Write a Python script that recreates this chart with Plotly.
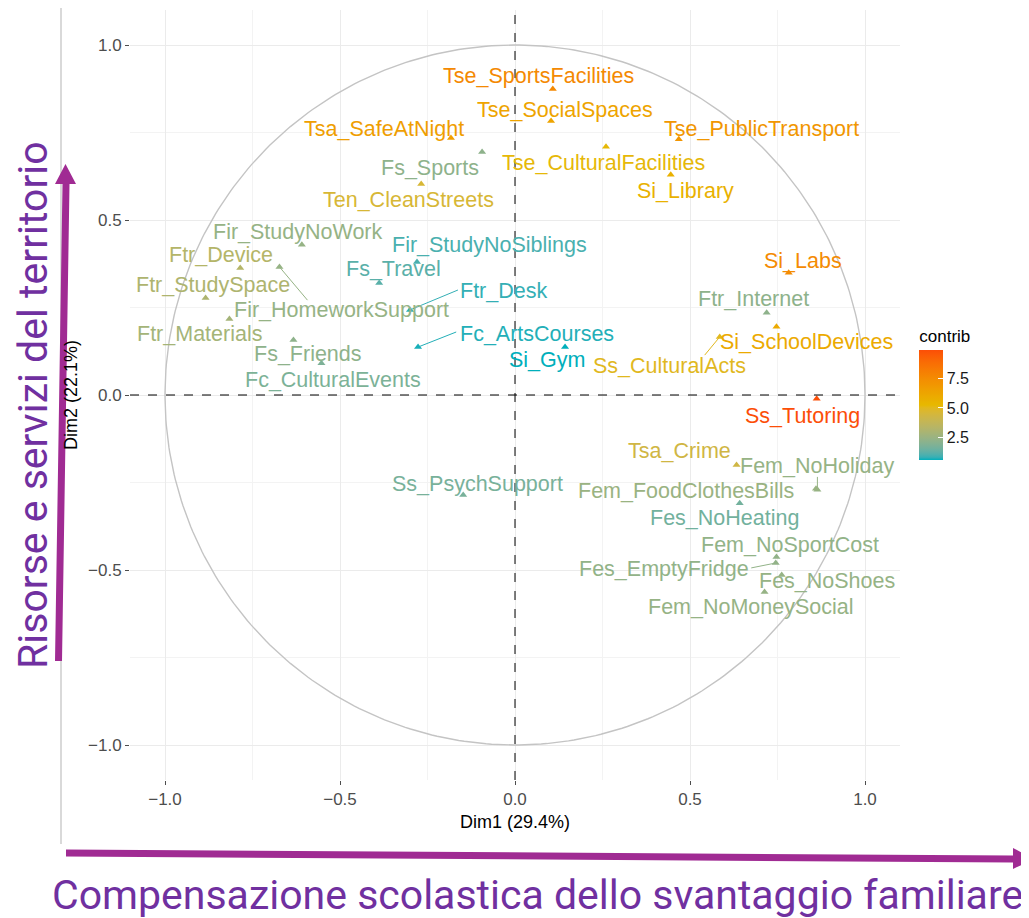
import plotly.graph_objects as go
import numpy as np

# ---- data ----
names = ["Tse_SportsFacilities", "Tse_SocialSpaces", "Tse_PublicTransport", "Tsa_SafeAtNight",
         "Fs_Sports", "Tse_CulturalFacilities", "Si_Library", "Ten_CleanStreets",
         "Fir_StudyNoWork", "Ftr_Device", "Ftr_StudySpace", "Fir_HomeworkSupport",
         "Ftr_Materials", "Fs_Friends", "Fc_CulturalEvents", "Fs_Travel",
         "Fir_StudyNoSiblings", "Ftr_Desk", "Fc_ArtsCourses", "Si_Gym",
         "Si_Labs", "Ftr_Internet", "Si_SchoolDevices", "Ss_CulturalActs",
         "Ss_Tutoring", "Tsa_Crime", "Fem_NoHoliday", "Fem_FoodClothesBills",
         "Fes_NoHeating", "Fem_NoSportCost", "Fes_EmptyFridge", "Fes_NoShoes",
         "Fem_NoMoneySocial", "Ss_PsychSupport"]
dim1 = [0.108, 0.103, 0.468, -0.183,
        -0.094, 0.260, 0.445, -0.268,
        -0.609, -0.785, -0.884, -0.673,
        -0.816, -0.633, -0.553, -0.388,
        -0.280, -0.300, -0.277, 0.143,
        0.782, 0.719, 0.747, 0.585,
        0.862, 0.633, 0.864, 0.860,
        0.642, 0.747, 0.745, 0.762,
        0.713, -0.148]
dim2 = [0.874, 0.783, 0.731, 0.734,
        0.694, 0.709, 0.629, 0.603,
        0.429, 0.363, 0.277, 0.366,
        0.217, 0.157, 0.091, 0.320,
        0.380, 0.243, 0.137, 0.137,
        0.349, 0.235, 0.195, 0.166,
        -0.011, -0.200, -0.271, -0.268,
        -0.309, -0.463, -0.480, -0.514,
        -0.563, -0.286]
contrib = [7.6, 6.3, 7.0, 6.6,
           2.2, 5.2, 5.6, 4.6,
           2.4, 3.3, 3.1, 2.4,
           2.8, 2.2, 1.8, 1.2,
           1.0, 0.8, 0.7, 0.6,
           7.5, 2.2, 6.0, 5.0,
           9.9, 4.3, 2.4, 2.5,
           1.6, 2.3, 2.3, 2.4,
           2.4, 1.7]

# label placement (repelled positions, data units)
label_x = [0.068, 0.143, 0.705, -0.374,
           -0.243, 0.254, 0.488, -0.305,
           -0.619, -0.839, -0.864, -0.496,
           -0.902, -0.591, -0.519, -0.348,
           -0.074, -0.034, 0.063, 0.091,
           0.822, 0.682, 0.833, 0.442,
           0.822, 0.471, 0.864, 0.488,
           0.599, 0.787, 0.425, 0.890,
           0.673, -0.108]
label_y = [0.911, 0.814, 0.760, 0.760,
           0.649, 0.663, 0.583, 0.557,
           0.466, 0.400, 0.314, 0.243,
           0.174, 0.117, 0.043, 0.360,
           0.429, 0.297, 0.174, 0.100,
           0.383, 0.274, 0.151, 0.083,
           -0.060, -0.160, -0.203, -0.274,
           -0.351, -0.429, -0.497, -0.531,
           -0.606, -0.254]
# repel segments: label -> segment end (data units)
seg_names = ["Fir_HomeworkSupport", "Ftr_Desk", "Fc_ArtsCourses", "Ss_CulturalActs",
             "Fem_NoHoliday", "Fes_EmptyFridge"]
seg_end_x = [-0.593, -0.163, -0.168, 0.542, 0.864, 0.675]
seg_end_y = [0.271, 0.300, 0.180, 0.114, -0.234, -0.494]

grad_cols = ["#00AFBB", "#E7B800", "#FC4E07"]


# ---- Lab interpolation (as ggplot's gradientn) ----
def hex2rgb(h):
    h = h.lstrip("#")
    return [int(h[i:i + 2], 16) / 255 for i in (0, 2, 4)]


def rgb2lab(rgb):
    lin = [c / 12.92 if c <= 0.04045 else ((c + 0.055) / 1.055) ** 2.4 for c in rgb]
    r, g, b = lin
    X = 0.4124564 * r + 0.3575761 * g + 0.1804375 * b
    Y = 0.2126729 * r + 0.7151522 * g + 0.0721750 * b
    Z = 0.0193339 * r + 0.1191920 * g + 0.9503041 * b
    Xn, Yn, Zn = 0.95047, 1.0, 1.08883

    def f(t):
        return t ** (1 / 3) if t > 0.008856 else 7.787 * t + 16 / 116
    fx, fy, fz = f(X / Xn), f(Y / Yn), f(Z / Zn)
    return [116 * fy - 16, 500 * (fx - fy), 200 * (fy - fz)]


def lab2hex(lab):
    L, a, b = lab
    fy = (L + 16) / 116
    fx = fy + a / 500
    fz = fy - b / 200

    def finv(t):
        return t ** 3 if t ** 3 > 0.008856 else (t - 16 / 116) / 7.787
    X, Y, Z = 0.95047 * finv(fx), finv(fy), 1.08883 * finv(fz)
    r = 3.2404542 * X - 1.5371385 * Y - 0.4985314 * Z
    g = -0.9692660 * X + 1.8760108 * Y + 0.0415560 * Z
    bb = 0.0556434 * X - 0.2040259 * Y + 1.0572252 * Z
    out = []
    for c in (r, g, bb):
        c = 12.92 * c if c <= 0.0031308 else 1.055 * c ** (1 / 2.4) - 0.055
        out.append(int(round(min(max(c, 0), 1) * 255)))
    return "#%02X%02X%02X" % tuple(out)


labs = [rgb2lab(hex2rgb(c)) for c in grad_cols]


def lab_color(t):
    t = min(max(t, 0), 1)
    seg = min(int(t * 2), 1)
    u = t * 2 - seg
    l0, l1 = labs[seg], labs[seg + 1]
    return lab2hex([l0[k] + (l1[k] - l0[k]) * u for k in range(3)])


colorscale = [[i / 40, lab_color(i / 40)] for i in range(41)]
cmin, cmax = min(contrib), max(contrib)
cols = [lab_color((c - cmin) / (cmax - cmin)) for c in contrib]
col_of = dict(zip(names, cols))
idx_of = {n: i for i, n in enumerate(names)}

fig = go.Figure()

# correlation circle
t = np.linspace(0, 2 * np.pi, 400)
fig.add_trace(go.Scatter(x=np.cos(t), y=np.sin(t), mode="lines",
                         line=dict(color="#C4C4C4", width=1.4),
                         hoverinfo="skip", showlegend=False))

# segments
for n, ex, ey in zip(seg_names, seg_end_x, seg_end_y):
    i = idx_of[n]
    fig.add_trace(go.Scatter(x=[dim1[i], ex], y=[dim2[i], ey], mode="lines",
                             line=dict(color=col_of[n], width=1),
                             hoverinfo="skip", showlegend=False))

# points (arrow heads)
fig.add_trace(go.Scatter(
    x=dim1, y=dim2, mode="markers", text=names,
    marker=dict(symbol="triangle-up", size=7, color=contrib,
                colorscale=colorscale, cmin=cmin, cmax=cmax,
                showscale=True,
                colorbar=dict(
                    title=dict(text="contrib", side="top",
                               font=dict(size=17, color="#000000",
                                         family="Liberation Sans, Arial")),
                    x=1.025, xanchor="left", xref="paper", xpad=0,
                    y=(780 - 393) / 770, yanchor="middle", yref="paper", ypad=0,
                    len=134, lenmode="pixels",
                    thickness=24, thicknessmode="pixels",
                    outlinewidth=0,
                    tickvals=[2.5, 5.0, 7.5], ticktext=["2.5", "5.0", "7.5"],
                    ticks="inside", ticklen=5, tickcolor="white",
                    tickfont=dict(size=16, color="#1A1A1A",
                                  family="Liberation Sans, Arial"),
                )),
    showlegend=False))

# labels
for n, lx, ly in zip(names, label_x, label_y):
    fig.add_annotation(x=lx, y=ly, xref="x", yref="y", text=n, showarrow=False,
                       font=dict(size=21.5, color=col_of[n],
                                 family="Liberation Sans, Arial"),
                       xanchor="center", yanchor="middle")

axis_common = dict(range=[-1.1, 1.1], tickvals=[-1.0, -0.5, 0.0, 0.5, 1.0],
                   ticktext=["\u22121.0", "\u22120.5", "0.0", "0.5", "1.0"],
                   showgrid=True, gridcolor="#EBEBEB", gridwidth=1.2,
                   zeroline=False, showline=False,
                   ticks="outside", ticklen=4, tickcolor="#4D4D4D",
                   tickfont=dict(size=17, color="#4D4D4D",
                                 family="Liberation Sans, Arial"),
                   minor=dict(dtick=0.25, tick0=0.25, showgrid=True,
                              gridcolor="#F3F3F3", gridwidth=0.8, ticks=""),
                   fixedrange=True)

# page body has an 8px margin: compensate so the plot panel sits at page px 130..900 / 10..780
OFF = 8
W, H = 1029 - OFF, 918 - OFF
fig.update_layout(
    width=W, height=H, autosize=False,
    margin=dict(l=130 - OFF, r=W - (900 - OFF), t=10 - OFF, b=H - (780 - OFF)),
    paper_bgcolor="white", plot_bgcolor="white",
    xaxis=dict(**axis_common,
               title=dict(text="Dim1 (29.4%)", standoff=6,
                          font=dict(size=18, color="#000000",
                                    family="Liberation Sans Narrow, Liberation Sans, Arial"))),
    yaxis=dict(**axis_common,
               title=dict(text="Dim2 (22.1%)", standoff=5,
                          font=dict(size=18, color="#000000",
                                    family="Liberation Sans Narrow, Liberation Sans, Arial"))),
)

# dashed reference lines at 0
fig.add_shape(type="line", x0=0, x1=0, y0=-1.1, y1=1.1, xref="x", yref="y",
              line=dict(color="black", width=1, dash="dash"))
fig.add_shape(type="line", x0=-1.1, x1=1.1, y0=0, y1=0, xref="x", yref="y",
              line=dict(color="black", width=1, dash="dash"))


# ---- overlay (page pixel -> paper) ----
def px(xp):
    return (xp - 130) / 770.0


def py(yp):
    return (780 - yp) / 770.0


def path(points):
    return "M " + " L ".join(f"{px(a):.5f},{py(b):.5f}" for a, b in points) + " Z"


fig.add_shape(type="line", xref="paper", yref="paper",
              x0=px(61), x1=px(61), y0=py(7), y1=py(844),
              line=dict(color="#D9D9D9", width=2))

purple = "#A02B93"
fig.add_shape(type="path", xref="paper", yref="paper",
              path=path([(55, 661), (62, 661), (69.5, 184), (76, 184), (65.5, 164),
                         (55, 184), (62.5, 184)]),
              fillcolor=purple, line=dict(width=0))
fig.add_shape(type="path", xref="paper", yref="paper",
              path=path([(66, 849.5), (1013, 855.5), (1013, 848), (1034, 859),
                         (1013, 869), (1013, 862.5), (66, 856.5)]),
              fillcolor=purple, line=dict(width=0))

fig.add_annotation(x=px(537), y=py(895), xref="paper", yref="paper",
                   text="Compensazione scolastica dello svantaggio familiare",
                   showarrow=False, xanchor="center", yanchor="middle",
                   font=dict(size=41, color="#7030A0", family="Roboto"))
fig.add_annotation(x=px(33), y=py(405), xref="paper", yref="paper",
                   text="Risorse e servizi del territorio", textangle=-90,
                   showarrow=False, xanchor="center", yanchor="middle",
                   font=dict(size=41, color="#7030A0", family="Roboto"))

fig.write_html("out.html")
